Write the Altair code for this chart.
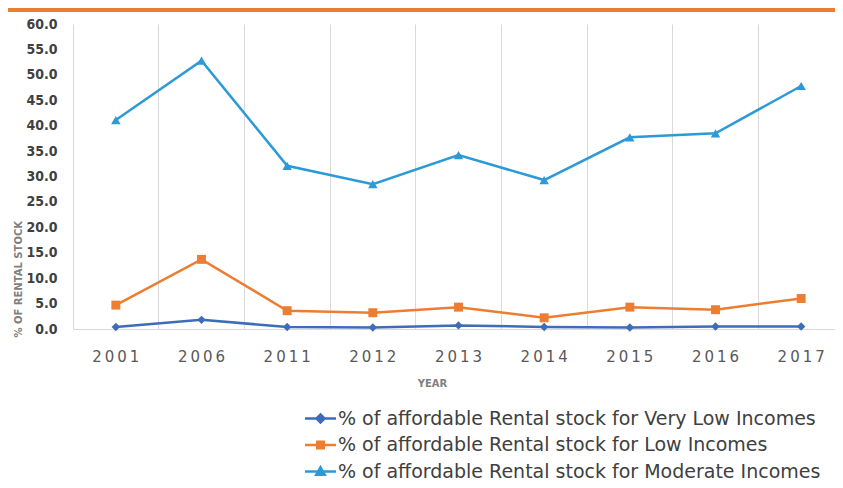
import altair as alt
import pandas as pd

years = ["2001", "2006", "2011", "2012", "2013", "2014", "2015", "2016", "2017"]
very_low = [0.4, 1.8, 0.4, 0.3, 0.7, 0.4, 0.3, 0.5, 0.5]
low = [4.7, 13.7, 3.6, 3.2, 4.3, 2.2, 4.3, 3.8, 6.0]
moderate = [41.1, 52.8, 32.1, 28.5, 34.2, 29.3, 37.7, 38.5, 47.8]

series_names = [
    "% of affordable Rental stock for Very Low Incomes",
    "% of affordable Rental stock for Low Incomes",
    "% of affordable Rental stock for Moderate Incomes",
]
series_colors = ["#3D6DB8", "#ED7D31", "#2C9AD6"]
series_shapes = ["diamond", "square", "triangle-up"]
series_sizes = [70, 90, 130]

rows = []
for name, vals in zip(series_names, [very_low, low, moderate]):
    for y, v in zip(years, vals):
        rows.append({"year": y, "value": v, "series": name, "marker": name})
df = pd.DataFrame(rows)

W, H = 771, 305

# legend symbol paths (unit = half of sqrt(symbolSize) = 5px)
legend_shapes = {
    series_names[0]: "M-3.1,0H3.1M0,-0.8L0.8,0L0,0.8L-0.8,0Z",
    series_names[1]: "M-3.1,0H3.1M-0.65,-0.65H0.65V0.65H-0.65Z",
    series_names[2]: "M-3.1,0H3.1M0,-0.85L0.85,0.65L-0.85,0.65Z",
}
shape_expr = " : ".join(
    f"datum.value === '{k}' ? '{v}'" for k, v in legend_shapes.items()
) + " : 'circle'"
color_expr = " : ".join(
    f"datum.value === '{k}' ? '{c}'" for k, c in zip(series_names, series_colors)
) + " : 'gray'"

color = alt.Color(
    "series:N",
    scale=alt.Scale(domain=series_names, range=series_colors),
    legend=alt.Legend(
        title=None,
        orient="none",
        legendX=238,
        legendY=385,
        direction="vertical",
        labelFont="DejaVu Sans",
        labelFontSize=19,
        labelColor="#404040",
        labelLimit=0,
        labelOffset=8,
        rowPadding=6.5,
        symbolSize=100,
        symbolStrokeWidth=2.5,
        symbolType=alt.ExprRef(expr=shape_expr),
        symbolFillColor=alt.ExprRef(expr=color_expr),
        symbolOpacity=1,
    ),
)

x = alt.X(
    "year:N",
    sort=years,
    bandPosition=0.5,
    scale=alt.Scale(type="band", paddingInner=0, paddingOuter=0),
    axis=alt.Axis(
        title="YEAR",
        titleFont="DejaVu Sans",
        titleFontSize=10,
        titleFontWeight="bold",
        titleColor="#7f7f7f",
        titleX=359,
        titleY=49,
        titleBaseline="top",
        titleAnchor="start",
        titleAlign="center",
        labelAngle=0,
        labelFont="DejaVu Sans",
        labelFontSize=15,
        labelColor="#595959",
        labelExpr="join(split(datum.label, ''), '\u2009')",
        labelPadding=20,
        ticks=False,
        tickSize=0,
        domainColor="#D9D9D9",
        domainWidth=1,
        grid=True,
        gridColor="#D9D9D9",
        gridWidth=1,
        bandPosition=0,
    ),
)

y = alt.Y(
    "value:Q",
    scale=alt.Scale(domain=[0, 60], nice=False),
    axis=alt.Axis(
        title="% OF RENTAL STOCK",
        titleFont="DejaVu Sans",
        titleFontSize=10,
        titleFontWeight="bold",
        titleColor="#7f7f7f",
        titleAngle=270,
        titleAlign="left",
        titleBaseline="middle",
        titleX=-55,
        titleY=313,
        values=list(range(0, 61, 5)),
        format=".1f",
        labelFont="DejaVu Sans Condensed",
        labelFontWeight="bold",
        labelFontSize=14,
        labelColor="#404040",
        labelPadding=16,
        ticks=False,
        tickSize=0,
        domain=False,
        grid=False,
    ),
)

base = alt.Chart(df)

lines = base.mark_line(strokeWidth=2.5).encode(x=x, y=y, color=color)
points = base.mark_point(filled=True, opacity=1).encode(
    x=x,
    y=y,
    color=alt.Color(
        "marker:N",
        scale=alt.Scale(domain=series_names, range=series_colors),
        legend=None,
    ),
    shape=alt.Shape(
        "marker:N",
        scale=alt.Scale(domain=series_names, range=series_shapes),
        legend=None,
    ),
    size=alt.Size(
        "marker:N",
        scale=alt.Scale(domain=series_names, range=series_sizes),
        legend=None,
    ),
)

bar = alt.Chart(pd.DataFrame({"k": [0]})).mark_rule(
    color="#ED7D31", strokeWidth=4
).encode(x=alt.value(-70), x2=alt.value(W + 20), y=alt.value(-14))

chart = (
    alt.layer(bar, lines, points)
    .resolve_scale(color="independent")
    .properties(
        width=W,
        height=H,
        autosize=alt.AutoSizeParams(type="none"),
        padding={"left": 65, "top": 16, "right": -9, "bottom": 151},
    )
    .configure_view(stroke=None)
)

chart.save("out.html", embed_options={"renderer": "svg", "actions": False})
